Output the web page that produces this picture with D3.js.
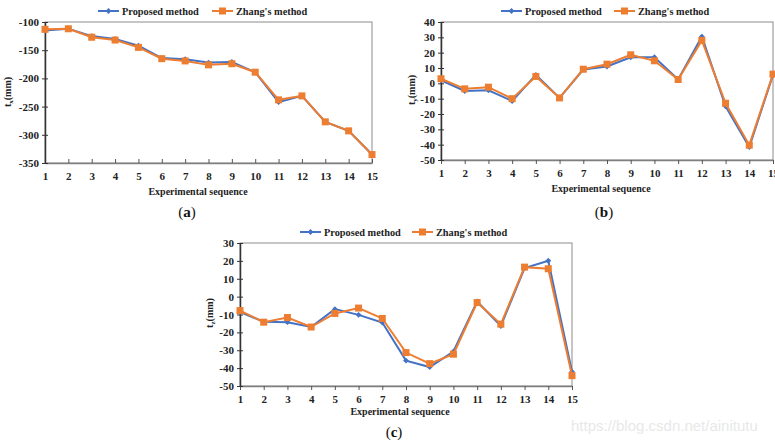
<!DOCTYPE html>
<html>
<head>
<meta charset="utf-8">
<script src="https://cdn.jsdelivr.net/npm/d3@7"></script>
<style>
  html, body { margin: 0; padding: 0; background: #fff; }
  svg { display: block; font-family: "Liberation Serif", "Times New Roman", serif; }
</style>
</head>
<body>
<svg id="chart" width="775" height="443"></svg>
<script>
// ---- data ----
const seq = [1, 2, 3, 4, 5, 6, 7, 8, 9, 10, 11, 12, 13, 14, 15];
const seriesNames = ["Proposed method", "Zhang's method"];

const txProposed = [-115, -112, -125, -130, -142, -164, -166, -172, -171, -189, -242, -231, -277, -293, -335];
const txZhang    = [-113, -112, -127, -132, -145, -165, -169, -176, -174, -189, -238, -231, -277, -293, -335];

const tyProposed = [2, -5, -4.5, -11.5, 5.5, -9.5, 9, 11, 17, 17, 2.5, 30.5, -15, -41.5, 5.5];
const tyZhang    = [3, -3.6, -2.5, -10, 4.5, -9.5, 9.2, 12.5, 18.6, 14.7, 2.5, 28, -13, -40.3, 6];

const tzProposed = [-8.7, -14, -14.3, -17, -7, -10.2, -14.5, -35.8, -39.4, -30.7, -2.7, -16.4, 16, 20.1, -42];
const tzZhang    = [-7.8, -14.3, -11.7, -17, -9.4, -6.4, -12.2, -31.3, -37.5, -32.2, -3.3, -15.4, 16.5, 15.6, -44.2];

const txTicks = [-100, -150, -200, -250, -300, -350];
const tyTicks = [40, 30, 20, 10, 0, -10, -20, -30, -40, -50];
const tzTicks = [30, 20, 10, 0, -10, -20, -30, -40, -50];

const panelLabels = ["a", "b", "c"];
const axisSub = ["x", "y", "z"];
const xTitle = "Experimental sequence";
const watermark = "https://blog.csdn.net/ainitutu";

// ---- layout ----
const BLUE = "#4472C4", ORANGE = "#ED7D31";
const SERIF = "'Liberation Serif', 'Times New Roman', serif";
const svg = d3.select("#chart");
svg.append("rect").attr("width", 775).attr("height", 443).attr("fill", "#fff");

const panels = [
  { prop: txProposed, zh: txZhang, ticks: txTicks, dom: [-350, -100],
    x0: 45, x1: 372, y0: 22, y1: 163, tickIn: true,
    legY: 11, legX: 98, legX2: 212, ytX: 8, ytY: 92, xtX: 198, xtY: 195, capX: 187, capY: 217 },
  { prop: tyProposed, zh: tyZhang, ticks: tyTicks, dom: [-50, 40],
    x0: 441, x1: 773, y0: 22, y1: 160, tickIn: false,
    legY: 11, legX: 501, legX2: 614, ytX: 412, ytY: 90, xtX: 601, xtY: 192, capX: 604, capY: 217 },
  { prop: tzProposed, zh: tzZhang, ticks: tzTicks, dom: [-50, 30],
    x0: 240, x1: 572, y0: 243, y1: 386, tickIn: false,
    legY: 232, legX: 300, legX2: 412, ytX: 210, ytY: 313, xtX: 400, xtY: 415, capX: 394, capY: 437 }
];

panels.forEach((p, i) => {
  const g = svg.append("g");
  const x = d3.scaleLinear().domain([seq[0], seq[seq.length - 1]]).range([p.x0, p.x1]);
  const y = d3.scaleLinear().domain(p.dom).range([p.y1, p.y0]);

  // frame
  g.append("rect").attr("x", p.x0).attr("y", p.y0)
    .attr("width", p.x1 - p.x0).attr("height", p.y1 - p.y0)
    .attr("fill", "none").attr("stroke", "#8c8c8c").attr("stroke-width", 1);

  // bottom axis
  const xa = g.append("g").attr("transform", `translate(0,${p.y1})`)
    .call(d3.axisBottom(x).tickValues(seq).tickFormat(d3.format("d"))
      .tickSizeInner(p.tickIn ? -4 : 4).tickSizeOuter(0).tickPadding(p.tickIn ? 9 : 5));
  xa.select(".domain").attr("stroke", "#7f7f7f").attr("stroke-width", 1.5);
  xa.selectAll(".tick line").attr("stroke", "#555");
  xa.selectAll("text").attr("font-size", 11).attr("font-weight", "bold")
    .attr("font-family", SERIF).attr("fill", "#222");

  // left axis
  const ya = g.append("g").attr("transform", `translate(${p.x0},0)`)
    .call(d3.axisLeft(y).tickValues(p.ticks).tickFormat(d3.format("d"))
      .tickSizeInner(3).tickSizeOuter(0).tickPadding(3));
  ya.select(".domain").attr("stroke", "#333").attr("stroke-width", 1.5);
  ya.selectAll(".tick line").attr("stroke", "#333").attr("x2", 3).attr("x1", -3);
  ya.selectAll("text").attr("font-size", 11).attr("font-weight", "bold")
    .attr("font-family", SERIF).attr("fill", "#222")
    .text(d => d3.format("d")(d).replace("−", "-"));

  // lines
  const line = d3.line().x((d, k) => x(seq[k])).y(d => y(d));
  g.append("path").datum(p.prop).attr("d", line)
    .attr("fill", "none").attr("stroke", BLUE).attr("stroke-width", 2);
  g.selectAll(".dia").data(p.prop).enter().append("path")
    .attr("d", d3.symbol(d3.symbolDiamond2, 22))
    .attr("transform", (d, k) => `translate(${x(seq[k])},${y(d)})`)
    .attr("fill", BLUE);
  g.append("path").datum(p.zh).attr("d", line)
    .attr("fill", "none").attr("stroke", ORANGE).attr("stroke-width", 2);
  g.selectAll(".sq").data(p.zh).enter().append("rect")
    .attr("x", (d, k) => x(seq[k]) - 3.5).attr("y", d => y(d) - 3.5)
    .attr("width", 7).attr("height", 7).attr("fill", ORANGE);

  // legend
  const lg = g.append("g");
  lg.append("line").attr("x1", p.legX).attr("x2", p.legX + 21)
    .attr("y1", p.legY).attr("y2", p.legY).attr("stroke", BLUE).attr("stroke-width", 2);
  lg.append("path").attr("d", d3.symbol(d3.symbolDiamond2, 22))
    .attr("transform", `translate(${p.legX + 10.5},${p.legY})`).attr("fill", BLUE);
  lg.append("text").attr("x", p.legX + 24).attr("y", p.legY + 3.5)
    .attr("font-size", 10.3).attr("font-weight", "bold").attr("fill", "#222")
    .text(seriesNames[0]);
  lg.append("line").attr("x1", p.legX2).attr("x2", p.legX2 + 21)
    .attr("y1", p.legY).attr("y2", p.legY).attr("stroke", ORANGE).attr("stroke-width", 2);
  lg.append("rect").attr("x", p.legX2 + 7).attr("y", p.legY - 3.5)
    .attr("width", 7).attr("height", 7).attr("fill", ORANGE);
  lg.append("text").attr("x", p.legX2 + 24).attr("y", p.legY + 3.5)
    .attr("font-size", 10.3).attr("font-weight", "bold").attr("fill", "#222")
    .text(seriesNames[1]);

  // y title
  const yt = g.append("text")
    .attr("transform", `translate(${p.ytX + 3},${p.ytY}) rotate(-90)`)
    .attr("text-anchor", "middle").attr("font-size", 10).attr("font-weight", "bold").attr("fill", "#222");
  yt.append("tspan").text("t");
  yt.append("tspan").attr("font-size", 7).attr("dy", 2).text(axisSub[i]);
  yt.append("tspan").attr("dy", -2).text("(mm)");

  // x title
  g.append("text").attr("x", p.xtX).attr("y", p.xtY).attr("text-anchor", "middle")
    .attr("font-size", 10).attr("font-weight", "bold").attr("fill", "#222").text(xTitle);

  // caption
  const cap = g.append("text").attr("x", p.capX).attr("y", p.capY).attr("text-anchor", "middle")
    .attr("font-size", 15).attr("fill", "#111");
  cap.append("tspan").text("(");
  cap.append("tspan").attr("font-weight", "bold").text(panelLabels[i]);
  cap.append("tspan").text(")");
});

// watermark
svg.append("text").attr("x", 571).attr("y", 431)
  .style("font-family", "'Liberation Sans', Arial, sans-serif")
  .attr("font-size", 15).attr("fill", "#e8e8e8").text(watermark);
</script>
</body>
</html>
